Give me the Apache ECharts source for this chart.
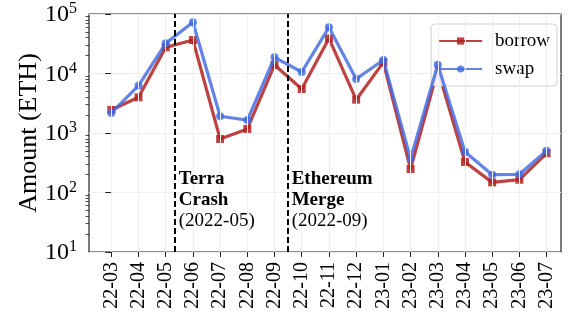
<!DOCTYPE html>
<html>
<head>
<meta charset="utf-8">
<script src="https://cdn.jsdelivr.net/npm/echarts@6/dist/echarts.min.js"></script>
<style>
html, body { margin: 0; padding: 0; background: #fff; }
#chart { width: 572px; height: 316px; }
</style>
</head>
<body>
<div id="chart"></div>
<script>
// months on the x axis
const months = ['22-03', '22-04', '22-05', '22-06', '22-07', '22-08', '22-09', '22-10', '22-11',
    '22-12', '23-01', '23-02', '23-03', '23-04', '23-05', '23-06', '23-07'];
// amounts in ETH
const borrow = [2440, 3980, 27500, 36600, 792, 1170, 13900, 5480, 38900, 3630, 15400, 248, 11500, 326, 148, 164, 456];
const swap = [2170, 6240, 32100, 72500, 1910, 1650, 18700, 10600, 59700, 8090, 16900, 370, 14000, 485, 199, 202, 505];
// minor ticks of the log axis (2..9 x 10^n)
const minorTicks = [];
[10, 100, 1000, 10000].forEach(d => {
    for (let k = 2; k <= 9; k++) minorTicks.push(k * d);
});
// event lines (position in month index) and their notes
const events = [
    { x: 2.35, title: ['Terra', 'Crash'], date: '(2022-05)' },
    { x: 6.5, title: ['Ethereum', 'Merge'], date: '(2022-09)' }
];

const font = 'Liberation Serif, Times New Roman, serif';
const idx = months.map((m, i) => i);

const chart = echarts.init(document.getElementById('chart'));

const option = {
    animation: false,
    grid: {
        left: 89, top: 14, width: 472, height: 238,
        show: true, borderColor: '#222', borderWidth: 1.2, backgroundColor: 'transparent'
    },
    legend: {
        orient: 'vertical',
        right: 15,
        top: 24,
        padding: [7, 7, 7, 7],
        itemWidth: 43,
        itemHeight: 9,
        itemGap: 8,
        backgroundColor: 'rgba(255,255,255,0.85)',
        borderColor: '#d0d0d0',
        borderWidth: 1,
        borderRadius: 4,
        textStyle: { fontFamily: font, fontSize: 19, color: '#000', lineHeight: 20, padding: [0, 0, 0, 8] },
        data: ['borrow', 'swap']
    },
    xAxis: {
        type: 'value',
        min: -0.82,
        max: 16.53,
        axisLine: { show: false },
        splitLine: { show: false },
        axisTick: { show: true, customValues: idx, length: 5, lineStyle: { color: '#222', width: 1 } },
        axisLabel: {
            customValues: idx,
            rotate: 90,
            margin: 10,
            fontFamily: font,
            fontSize: 20,
            color: '#000',
            formatter: v => months[Math.round(v)]
        }
    },
    yAxis: [
        {
            type: 'log',
            logBase: 10,
            min: 10,
            max: 100000,
            offset: 0,
            name: 'Amount (ETH)',
            nameLocation: 'middle',
            nameGap: 47,
            nameMoveOverlap: false,
            nameTextStyle: { fontFamily: font, fontSize: 26, color: '#000' },
            axisLine: { show: false },
            axisTick: { show: true, length: 6, lineStyle: { color: '#222', width: 1 } },
            splitLine: { show: true, lineStyle: { color: '#eeeeee', width: 1 } },
            axisLabel: {
                margin: 12,
                formatter: v => '{b|10}{s|' + Math.round(Math.log10(v)) + '}',
                rich: {
                    b: { fontFamily: font, fontSize: 24, color: '#000', lineHeight: 26, verticalAlign: 'bottom' },
                    s: { fontFamily: font, fontSize: 16, color: '#000', lineHeight: 26, verticalAlign: 'top', padding: [0, 0, 6, 0] }
                }
            }
        },
        {
            type: 'log',
            logBase: 10,
            min: 10,
            max: 100000,
            position: 'left',
            offset: 0,
            axisLine: { show: false },
            splitLine: { show: false },
            axisLabel: { show: false },
            axisTick: { show: true, customValues: minorTicks, length: 3.5, lineStyle: { color: '#222', width: 0.8 } }
        }
    ],
    series: [
        {
            // vertical grid lines at each month
            name: 'grid',
            type: 'line',
            z: 1,
            symbol: 'none',
            data: [[0, 10]],
            silent: true,
            markLine: {
                silent: true,
                symbol: ['none', 'none'],
                label: { show: false },
                lineStyle: { color: '#eeeeee', width: 1, type: 'solid' },
                data: idx.map(i => ({ xAxis: i }))
            }
        },
        {
            name: 'borrow',
            type: 'line',
            z: 3,
            data: idx.map(i => [i, borrow[i]]),
            symbol: 'rect',
            symbolSize: 8,
            lineStyle: { color: '#b22222', width: 3.2, opacity: 0.85 },
            itemStyle: { color: '#b22222', opacity: 0.85 }
        },
        {
            name: 'swap',
            type: 'line',
            z: 4,
            data: idx.map(i => [i, swap[i]]),
            symbol: 'circle',
            symbolSize: 8,
            lineStyle: { color: '#4169e1', width: 3.2, opacity: 0.82 },
            itemStyle: { color: '#4169e1', opacity: 0.82 }
        },
        {
            // event markers
            name: 'events',
            type: 'line',
            z: 6,
            symbol: 'none',
            data: [[0, 10]],
            silent: true,
            markLine: {
                silent: true,
                symbol: ['none', 'none'],
                label: { show: false },
                lineStyle: { color: '#000', width: 2, type: [6, 3] },
                data: events.map(e => ({ xAxis: e.x }))
            }
        }
    ]
};

chart.setOption(option);

// notes next to the event lines
const graphics = events.map(e => {
    const p = chart.convertToPixel({ gridIndex: 0 }, [e.x, 10]);
    return {
        type: 'text',
        x: p[0] + 3.5,
        y: 169,
        z: 10,
        style: {
            text: e.title.map(t => '{b|' + t + '}').join('\n') + '\n{n|' + e.date + '}',
            rich: {
                b: { fontFamily: font, fontSize: 19, fontWeight: 'bold', color: '#000', lineHeight: 21 },
                n: { fontFamily: font, fontSize: 19, color: '#000', lineHeight: 21 }
            }
        }
    };
});
chart.setOption({ graphic: graphics });
</script>
</body>
</html>
